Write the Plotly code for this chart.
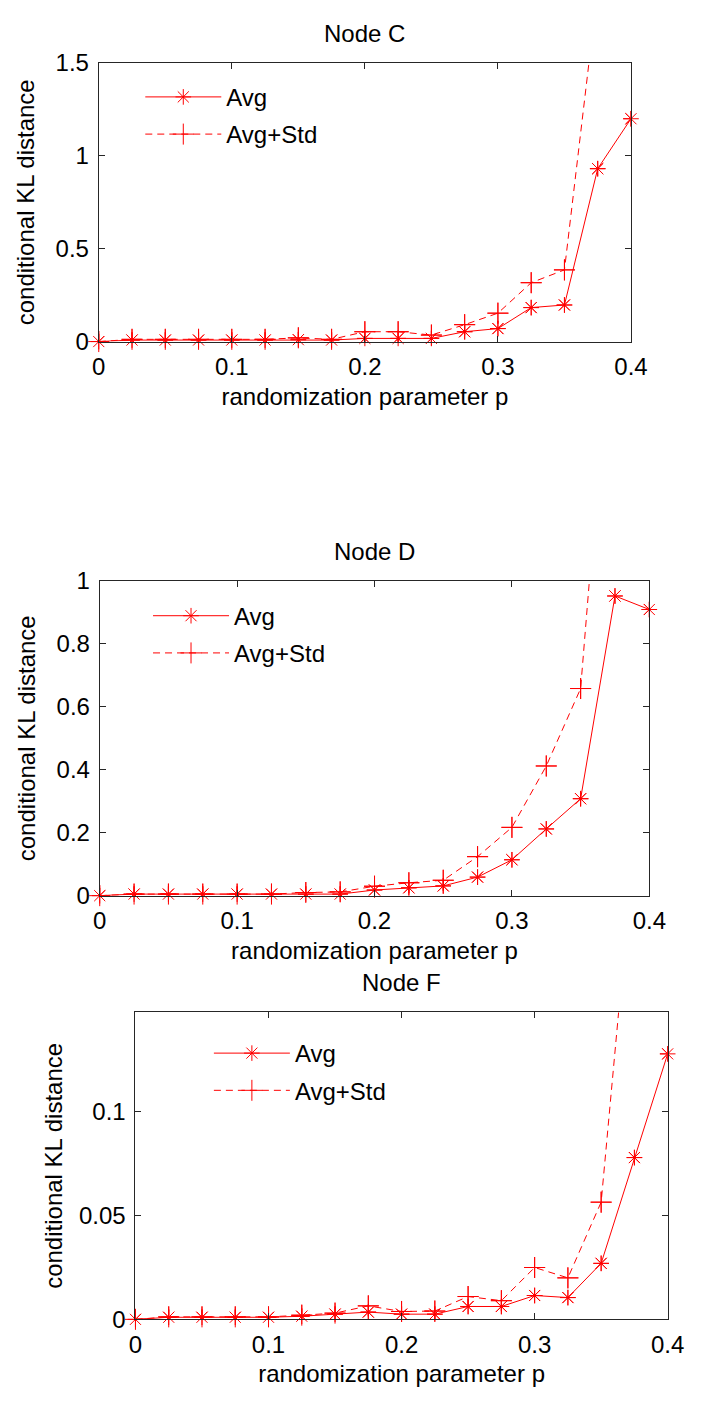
import plotly.graph_objects as go

# ---------------- data ----------------
p = [0, 0.025, 0.05, 0.075, 0.1, 0.125, 0.15, 0.175, 0.2, 0.225, 0.25,
     0.275, 0.3, 0.325, 0.35, 0.375, 0.4]

c_avg = [0, 0.008, 0.008, 0.008, 0.008, 0.008, 0.01, 0.008, 0.017, 0.017, 0.017,
         0.053, 0.07, 0.183, 0.197, 0.931, 1.2]
c_std = [0, 0.012, 0.012, 0.012, 0.012, 0.012, 0.02, 0.012, 0.053, 0.053, 0.035,
         0.091, 0.153, 0.317, 0.386, 1.9, 2.4]

d_avg = [0, 0.005, 0.005, 0.005, 0.005, 0.005, 0.005, 0.005, 0.018, 0.025, 0.031,
         0.059, 0.114, 0.212, 0.308, 0.952, 0.909]
d_std = [0, 0.005, 0.005, 0.005, 0.005, 0.005, 0.01, 0.012, 0.03, 0.041, 0.049,
         0.124, 0.217, 0.412, 0.658, 2.0, 2.1]

f_avg = [0, 0.001, 0.001, 0.001, 0.001, 0.0015, 0.0025, 0.0035, 0.0025, 0.0025, 0.0062,
         0.0062, 0.0115, 0.0105, 0.027, 0.078, 0.128]
f_std = [0, 0.0012, 0.0012, 0.0012, 0.0012, 0.002, 0.003, 0.0065, 0.0038, 0.004, 0.011,
         0.009, 0.025, 0.02, 0.0565, 0.231, 0.35]

titles = ["Node C", "Node D", "Node F"]
y_ranges = [[0, 1.5], [0, 1.0], [0, 0.148]]
y_dticks = [0.5, 0.2, 0.05]
series = [(c_avg, c_std), (d_avg, d_std), (f_avg, f_std)]
x_label = "randomization parameter p"
y_label = "conditional KL distance"
names = ["Avg", "Avg+Std"]

# ---------------- layout geometry (pixels) ----------------
W, H = 704, 1401
# (left, right, top, bottom) of each plot area in pixels
boxes = [(95, 646, 50, 334), (96, 665, 578, 899), (133, 684, 1018, 1331)]
# (left, top) of each legend box in pixels
legend_pos = [(138, 62), (146, 591), (209, 1037)]
y_title_standoff = [14, 14, 9]

FONT = "Liberation Sans, Arial, Helvetica, sans-serif"
FS = 24
RED = "#ff0000"

fig = go.Figure()
layout_axes = {}
for i, (box, (avg, std)) in enumerate(zip(boxes, series)):
    n = "" if i == 0 else str(i + 1)
    xa, ya = "x" + n, "y" + n
    lg = "legend" + n
    ymax = y_ranges[i][1]
    for j, (vals, sym, size, dash) in enumerate([(avg, "asterisk-open", 13, "solid"),
                                                 (std, "cross-thin-open", 15, "7px,5px")]):
        # clipped line (with legend)
        fig.add_trace(go.Scatter(
            x=p, y=vals, mode="lines+markers", name=names[j],
            xaxis=xa, yaxis=ya, legend=lg, legendgroup=f"{i}-{j}",
            line=dict(color=RED, width=1, dash=dash),
            marker=dict(symbol=sym, size=size, color=RED,
                        line=dict(color=RED, width=1)),
            cliponaxis=True,
        ))
        # unclipped markers for in-range points (so edge markers are complete)
        mx = [x for x, v in zip(p, vals) if v <= ymax]
        my = [v for v in vals if v <= ymax]
        fig.add_trace(go.Scatter(
            x=mx, y=my, mode="markers", showlegend=False,
            xaxis=xa, yaxis=ya, hoverinfo="skip",
            marker=dict(symbol=sym, size=size, color=RED,
                        line=dict(color=RED, width=1)),
            cliponaxis=False,
        ))

    l, r, t, b = box
    common = dict(showgrid=False, zeroline=False, showline=True, mirror="ticks",
                  linecolor="#262626", linewidth=1, ticks="inside", ticklen=6,
                  tickcolor="#262626", tickwidth=1, ticklabelstandoff=4,
                  tickfont=dict(family=FONT, size=FS, color="black"))
    layout_axes["xaxis" + n] = dict(
        common, domain=[l / W, r / W], anchor=ya, range=[0, 0.4], dtick=0.1,
        tick0=0, title=dict(text=x_label, standoff=8,
                            font=dict(family=FONT, size=FS, color="black")))
    layout_axes["yaxis" + n] = dict(
        common, domain=[1 - b / H, 1 - t / H], anchor=xa, range=y_ranges[i],
        dtick=y_dticks[i], tick0=0,
        title=dict(text=y_label, standoff=y_title_standoff[i],
                   font=dict(family=FONT, size=FS, color="black")))
    lx, ly = legend_pos[i]
    layout_axes[lg] = dict(
        x=lx / W, y=1 - ly / H, xanchor="left", yanchor="top",
        bgcolor="rgba(0,0,0,0)", borderwidth=0, itemwidth=76,
        traceorder="grouped", tracegroupgap=3,
        font=dict(family=FONT, size=FS, color="black"))
    fig.add_annotation(
        text=titles[i], xref=xa + " domain", yref=ya + " domain", x=0.5, y=1,
        xanchor="center", yanchor="bottom", yshift=14, showarrow=False,
        font=dict(family=FONT, size=FS, color="black"))

fig.update_layout(
    width=W, height=H, autosize=False,
    margin=dict(l=0, r=0, t=0, b=0),
    paper_bgcolor="white", plot_bgcolor="white",
    showlegend=True,
    **layout_axes,
)

fig.write_html("out.html")
